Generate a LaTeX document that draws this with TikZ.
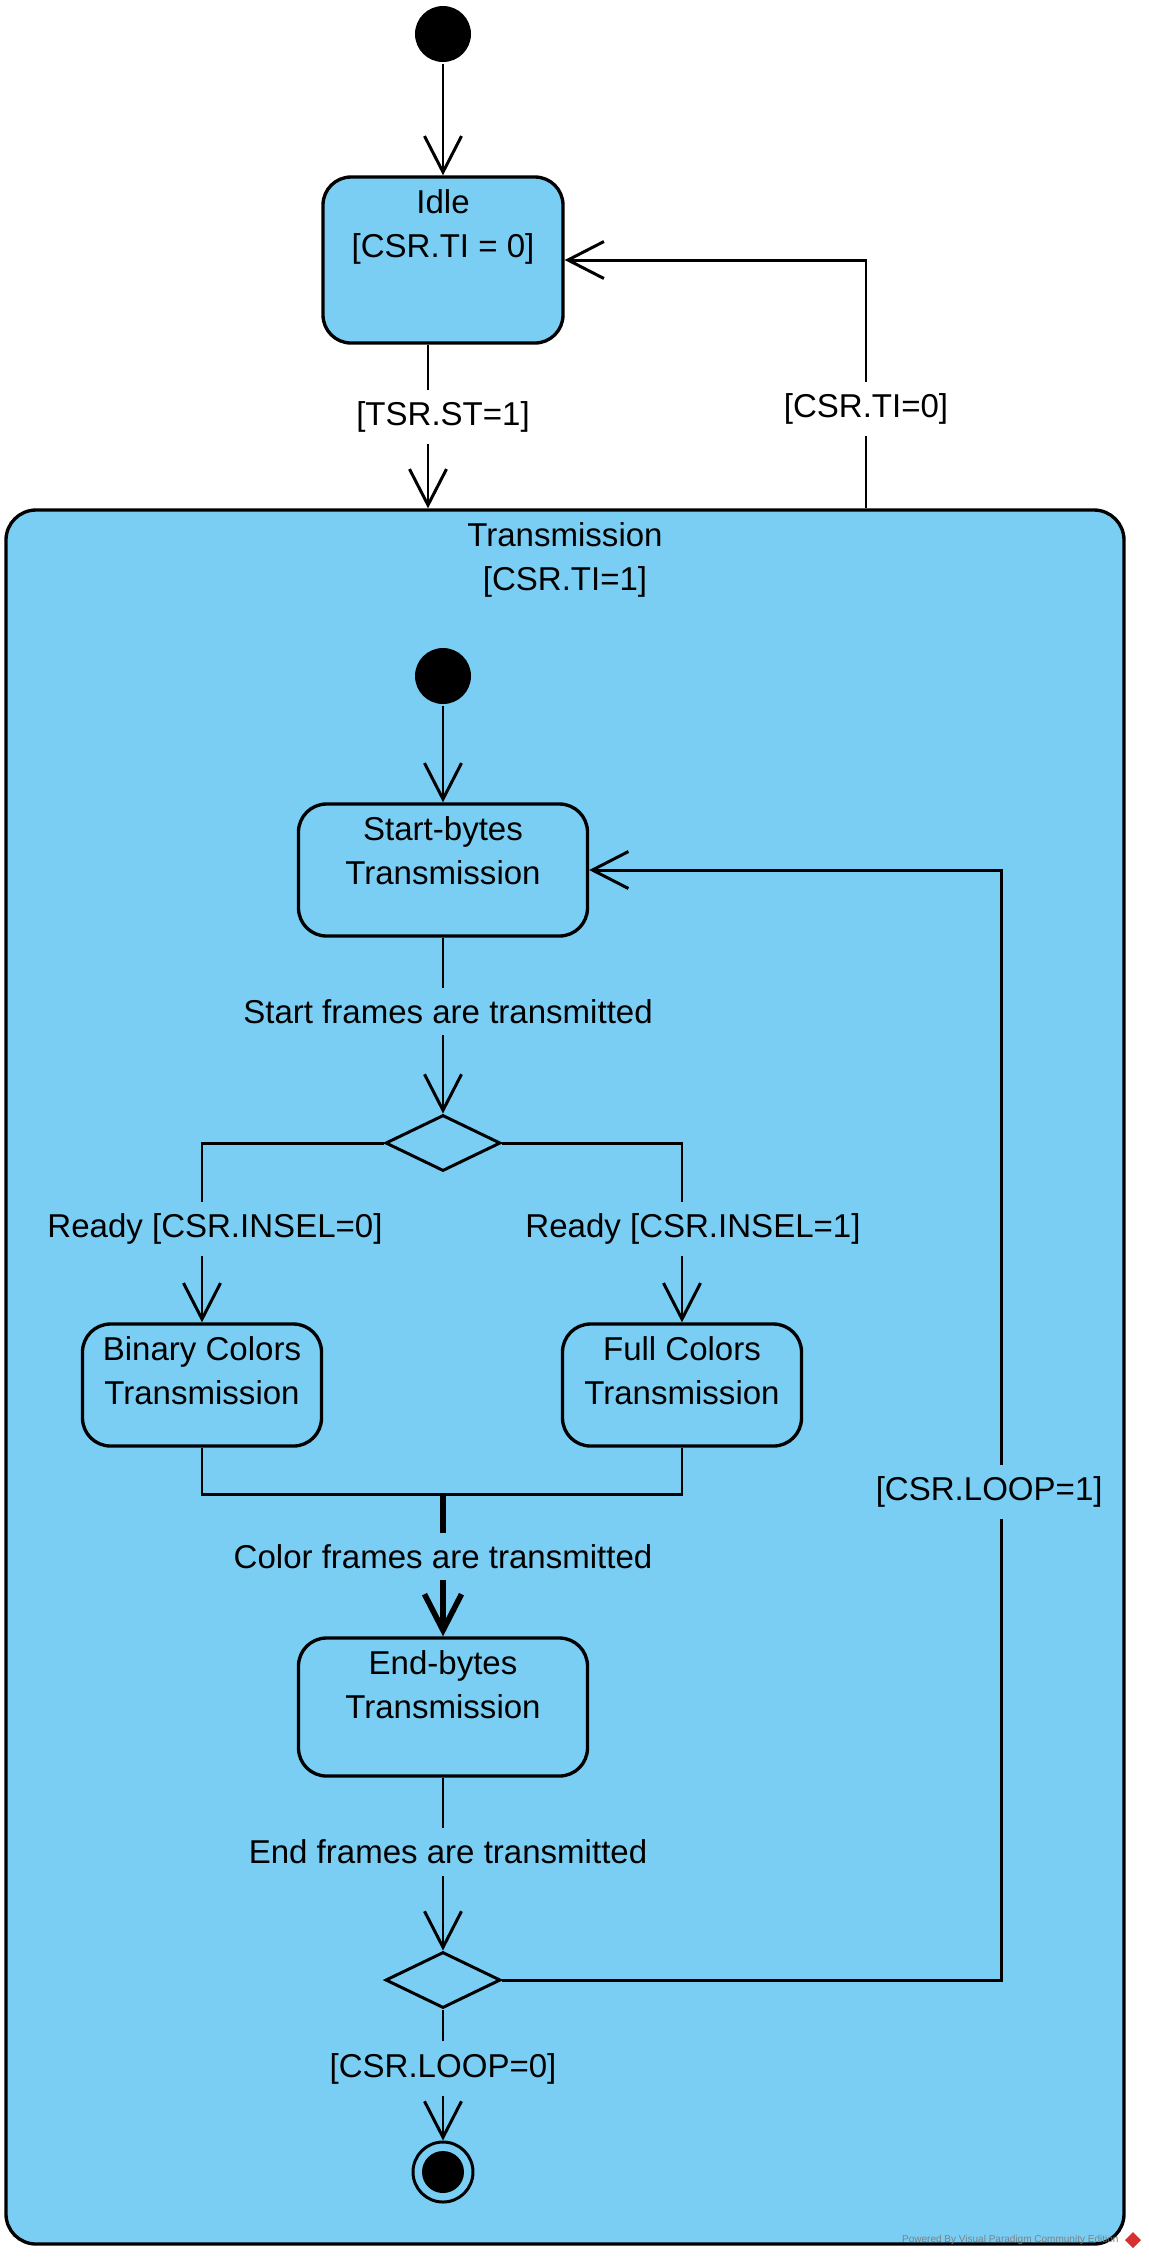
\documentclass[tikz,border=0pt]{standalone}
\usepackage{fontspec}
\setmainfont{Liberation Sans}
\usetikzlibrary{shapes.geometric,arrows.meta}
\definecolor{vpblue}{RGB}{122,206,244}
\definecolor{vpred}{RGB}{214,48,49}

\begin{document}
\begin{tikzpicture}[->, >={Straight Barb[length=3.6mm,width=3.7mm]}, line width=0.85pt,
    font=\fontsize{9.4}{12.6}\selectfont]
    \tikzstyle{state}=[draw, fill=vpblue, rounded corners=0.28cm, line width=0.95pt]
    \tikzstyle{initial}=[circle, fill=black, minimum size=0.56cm, inner sep=0pt]
    \tikzstyle{final}=[circle, draw, minimum size=0.6cm, inner sep=0pt,
        path picture={\fill (path picture bounding box.center) circle (0.21cm);}]
    \tikzstyle{choice}=[diamond, draw, minimum width=1.15cm, minimum height=0.56cm, inner sep=0pt]
    \tikzstyle{guard}=[fill=vpblue]
    \tikzstyle{title}=[align=center, anchor=north, inner sep=3.5pt]

    \useasboundingbox (0,0) rectangle (11.49,-22.59);

    % Draw the outer states
    \node[initial] (init) at (4.43,-0.34) {};
    \node[state, minimum width=2.4cm, minimum height=1.66cm,
        label={[title]north:Idle\\{[CSR.TI = 0]}}] (idle) at (4.43,-2.60) {};
    \node[state, minimum width=11.18cm, minimum height=17.34cm, rounded corners=0.3cm,
        label={[title]north:Transmission\\{[CSR.TI=1]}}] (trans) at (5.65,-13.77) {};

    % Draw the inner states
    \node[initial] (init2) at (4.43,-6.76) {};
    \node[state, minimum width=2.89cm, minimum height=1.32cm,
        label={[title]north:Start-bytes\\Transmission}] (start) at (4.43,-8.70) {};
    \node[choice] (fork) at (4.43,-11.43) {};
    \node[state, minimum width=2.39cm, minimum height=1.22cm,
        label={[title]north:Binary Colors\\Transmission}] (binary) at (2.02,-13.85) {};
    \node[state, minimum width=2.39cm, minimum height=1.22cm,
        label={[title]north:Full Colors\\Transmission}] (full) at (6.82,-13.85) {};
    \coordinate (join) at (4.43,-14.94);
    \node[state, minimum width=2.89cm, minimum height=1.38cm,
        label={[title]north:End-bytes\\Transmission}] (end) at (4.43,-17.07) {};
    \node[choice] (merge) at (4.43,-19.80) {};
    \node[final] (final) at (4.43,-21.72) {};

    % Connect the outer states
    \draw (init) -- (idle);
    \draw ([xshift=-0.15cm]idle.south) -- ([xshift=-0.15cm]idle.south |- trans.north)
        node[guard, fill=white, pos=0.44, xshift=0.15cm] {[TSR.ST=1]};
    \draw ([xshift=3.01cm]trans.north) |- node[guard, fill=white, pos=0.2] {[CSR.TI=0]} (idle.east);

    % Connect the inner states
    \draw (init2) -- (start);
    \draw (start) -- (fork) node[guard, pos=0.42, xshift=0.05cm] {Start frames are transmitted};
    \draw (fork.west) -| node[guard, pos=0.74, xshift=0.13cm] {Ready [CSR.INSEL=0]} (binary.north);
    \draw (fork.east) -| node[guard, pos=0.74, xshift=0.11cm] {Ready [CSR.INSEL=1]} (full.north);

    % Join both colour branches
    \draw[-] (binary.south) |- (join);
    \draw[-] (full.south) |- (join);
    \draw[line width=1.6pt] (join) -- (end) node[guard, pos=0.44] {Color frames are transmitted};

    \draw (end) -- (merge) node[guard, pos=0.43, xshift=0.05cm] {End frames are transmitted};
    \draw (merge.east) -| node[guard, pos=0.72, xshift=-0.12cm] {[CSR.LOOP=1]}
        ([xshift=4.12cm]start.east) -- (start.east);
    \draw (merge) -- (final) node[guard, pos=0.45] {[CSR.LOOP=0]};

    % Tool credit
    \node[anchor=east, text=gray, inner sep=0pt, font=\fontsize{2.85}{3}\selectfont] (credit)
        at (11.20,-22.40) {Powered By Visual Paradigm Community Edition};
    \fill[vpred] (11.33,-22.32) -- (11.41,-22.40) -- (11.33,-22.48) -- (11.25,-22.40) -- cycle;
\end{tikzpicture}
\end{document}
